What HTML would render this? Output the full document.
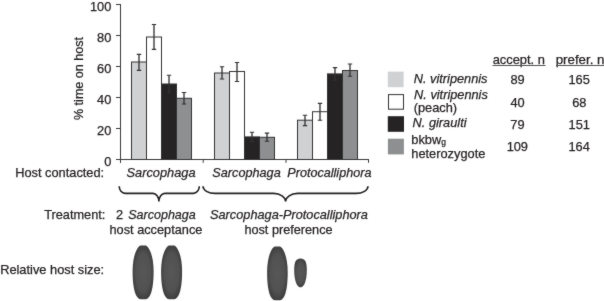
<!DOCTYPE html>
<html><head><meta charset="utf-8"><style>
html,body{margin:0;padding:0;background:#fff;overflow:hidden;}
svg{display:block;will-change:transform;font-family:"Liberation Sans",sans-serif;}
text{stroke:#231f20;stroke-width:0.25px;}
</style></head><body>
<svg width="604" height="301" viewBox="0 0 604 301">
<defs><filter id="soft" filterUnits="userSpaceOnUse" x="0" y="0" width="604" height="301" color-interpolation-filters="sRGB"><feConvolveMatrix order="3" kernelMatrix="1 2 1 2 28 2 1 2 1" edgeMode="duplicate" preserveAlpha="true"/></filter></defs>
<g filter="url(#soft)">
<rect width="604" height="301" fill="#fff"/>
<line x1="120.5" y1="4" x2="120.5" y2="163" stroke="#3a3a3a" stroke-width="1"/>
<line x1="116" y1="159.50" x2="121" y2="159.50" stroke="#3a3a3a" stroke-width="1"/>
<text x="104.18" y="166.00" style="font-size:12.8px" fill="#231f20">0</text>
<line x1="116" y1="128.50" x2="121" y2="128.50" stroke="#3a3a3a" stroke-width="1"/>
<text x="97.06" y="135.00" style="font-size:12.8px" fill="#231f20">20</text>
<line x1="116" y1="97.50" x2="121" y2="97.50" stroke="#3a3a3a" stroke-width="1"/>
<text x="97.06" y="104.00" style="font-size:12.8px" fill="#231f20">40</text>
<line x1="116" y1="66.50" x2="121" y2="66.50" stroke="#3a3a3a" stroke-width="1"/>
<text x="97.06" y="73.00" style="font-size:12.8px" fill="#231f20">60</text>
<line x1="116" y1="35.50" x2="121" y2="35.50" stroke="#3a3a3a" stroke-width="1"/>
<text x="97.06" y="42.00" style="font-size:12.8px" fill="#231f20">80</text>
<line x1="116" y1="4.50" x2="121" y2="4.50" stroke="#3a3a3a" stroke-width="1"/>
<text x="89.94" y="11.00" style="font-size:12.8px" fill="#231f20">100</text>
<line x1="116" y1="159.5" x2="369" y2="159.5" stroke="#3a3a3a" stroke-width="1"/>
<line x1="203.2" y1="159.5" x2="203.2" y2="162.8" stroke="#3a3a3a" stroke-width="1"/>
<line x1="286.0" y1="159.5" x2="286.0" y2="162.8" stroke="#3a3a3a" stroke-width="1"/>
<line x1="368.5" y1="159.5" x2="368.5" y2="162.8" stroke="#3a3a3a" stroke-width="1"/>
<rect x="131.50" y="62.00" width="15.00" height="97.50" fill="#d0d1d3" stroke="#333333" stroke-width="1"/>
<rect x="146.50" y="37.00" width="15.00" height="122.50" fill="#ffffff" stroke="#333333" stroke-width="1"/>
<rect x="161.50" y="84.00" width="15.00" height="75.50" fill="#252324" stroke="#333333" stroke-width="1"/>
<rect x="176.50" y="98.30" width="15.00" height="61.20" fill="#8d8f90" stroke="#333333" stroke-width="1"/>
<path d="M139.00 54.40V70.40" stroke="#333333" stroke-width="1.35" fill="none"/>
<path d="M136.80 54.40H141.20M136.80 70.40H141.20" stroke="#333333" stroke-width="1.1" fill="none"/>
<path d="M154.00 24.50V49.40" stroke="#333333" stroke-width="1.35" fill="none"/>
<path d="M151.80 24.50H156.20M151.80 49.40H156.20" stroke="#333333" stroke-width="1.1" fill="none"/>
<path d="M169.00 75.20V92.80" stroke="#333333" stroke-width="1.35" fill="none"/>
<path d="M166.80 75.20H171.20M166.80 92.80H171.20" stroke="#333333" stroke-width="1.1" fill="none"/>
<path d="M184.00 92.50V104.00" stroke="#333333" stroke-width="1.35" fill="none"/>
<path d="M181.80 92.50H186.20M181.80 104.00H186.20" stroke="#333333" stroke-width="1.1" fill="none"/>
<rect x="214.50" y="73.00" width="15.00" height="86.50" fill="#d0d1d3" stroke="#333333" stroke-width="1"/>
<rect x="229.50" y="71.50" width="15.00" height="88.00" fill="#ffffff" stroke="#333333" stroke-width="1"/>
<rect x="244.50" y="136.90" width="15.00" height="22.60" fill="#252324" stroke="#333333" stroke-width="1"/>
<rect x="259.50" y="137.30" width="15.00" height="22.20" fill="#8d8f90" stroke="#333333" stroke-width="1"/>
<path d="M222.00 66.80V79.00" stroke="#333333" stroke-width="1.35" fill="none"/>
<path d="M219.80 66.80H224.20M219.80 79.00H224.20" stroke="#333333" stroke-width="1.1" fill="none"/>
<path d="M237.00 62.50V81.50" stroke="#333333" stroke-width="1.35" fill="none"/>
<path d="M234.80 62.50H239.20M234.80 81.50H239.20" stroke="#333333" stroke-width="1.1" fill="none"/>
<path d="M252.00 132.20V141.60" stroke="#333333" stroke-width="1.35" fill="none"/>
<path d="M249.80 132.20H254.20M249.80 141.60H254.20" stroke="#333333" stroke-width="1.1" fill="none"/>
<path d="M267.00 133.10V141.30" stroke="#333333" stroke-width="1.35" fill="none"/>
<path d="M264.80 133.10H269.20M264.80 141.30H269.20" stroke="#333333" stroke-width="1.1" fill="none"/>
<rect x="297.50" y="120.20" width="15.00" height="39.30" fill="#d0d1d3" stroke="#333333" stroke-width="1"/>
<rect x="312.50" y="111.70" width="15.00" height="47.80" fill="#ffffff" stroke="#333333" stroke-width="1"/>
<rect x="327.50" y="73.90" width="15.00" height="85.60" fill="#252324" stroke="#333333" stroke-width="1"/>
<rect x="342.50" y="70.50" width="15.00" height="89.00" fill="#8d8f90" stroke="#333333" stroke-width="1"/>
<path d="M305.00 115.30V125.60" stroke="#333333" stroke-width="1.35" fill="none"/>
<path d="M302.80 115.30H307.20M302.80 125.60H307.20" stroke="#333333" stroke-width="1.1" fill="none"/>
<path d="M320.00 103.40V120.20" stroke="#333333" stroke-width="1.35" fill="none"/>
<path d="M317.80 103.40H322.20M317.80 120.20H322.20" stroke="#333333" stroke-width="1.1" fill="none"/>
<path d="M335.00 67.60V80.20" stroke="#333333" stroke-width="1.35" fill="none"/>
<path d="M332.80 67.60H337.20M332.80 80.20H337.20" stroke="#333333" stroke-width="1.1" fill="none"/>
<path d="M350.00 64.00V76.30" stroke="#333333" stroke-width="1.35" fill="none"/>
<path d="M347.80 64.00H352.20M347.80 76.30H352.20" stroke="#333333" stroke-width="1.1" fill="none"/>
<text x="-120.05" y="82.80" textLength="83.14" lengthAdjust="spacingAndGlyphs" style="font-size:12.8px" fill="#231f20" transform="rotate(-90)">% time on host</text>
<text x="15.15" y="177.00" textLength="89.02" lengthAdjust="spacingAndGlyphs" style="font-size:12.8px" fill="#231f20" >Host contacted:</text>
<text x="126.54" y="176.60" textLength="69.00" lengthAdjust="spacingAndGlyphs" style="font-style:italic;font-size:12.8px" fill="#231f20" >Sarcophaga</text>
<text x="212.34" y="176.60" textLength="68.39" lengthAdjust="spacingAndGlyphs" style="font-style:italic;font-size:12.8px" fill="#231f20" >Sarcophaga</text>
<text x="287.31" y="176.60" textLength="84.12" lengthAdjust="spacingAndGlyphs" style="font-style:italic;font-size:12.8px" fill="#231f20" >Protocalliphora</text>
<path d="M119.2 186.3 C119.2 190.21 121.90 193.4 125.2 193.4 H152.9 C156.20 193.4 158.9 197.09 158.9 201.6 C158.9 197.09 161.60 193.4 164.9 193.4 H193.3 C196.60 193.4 199.3 190.21 199.3 186.3" fill="none" stroke="#231f20" stroke-width="1.6"/>
<path d="M203.0 186.3 C203.0 190.21 208.40 193.4 215.0 193.4 H273.6 C280.20 193.4 285.6 197.09 285.6 201.6 C285.6 197.09 291.00 193.4 297.6 193.4 H356.0 C362.60 193.4 368.0 190.21 368.0 186.3" fill="none" stroke="#231f20" stroke-width="1.6"/>
<text x="44.22" y="219.00" textLength="61.14" lengthAdjust="spacingAndGlyphs" style="font-size:12.8px" fill="#231f20" >Treatment:</text>
<text x="115.96" y="219.00" textLength="7.12" lengthAdjust="spacingAndGlyphs" style="font-size:12.8px" fill="#231f20" >2</text>
<text x="128.25" y="219.00" textLength="67.48" lengthAdjust="spacingAndGlyphs" style="font-style:italic;font-size:12.8px" fill="#231f20" >Sarcophaga</text>
<text x="109.52" y="234.00" textLength="92.85" lengthAdjust="spacingAndGlyphs" style="font-size:12.8px" fill="#231f20" >host acceptance</text>
<text x="210.04" y="219.00" textLength="157.90" lengthAdjust="spacingAndGlyphs" style="font-style:italic;font-size:12.8px" fill="#231f20" >Sarcophaga-Protocalliphora</text>
<text x="244.42" y="234.00" textLength="88.14" lengthAdjust="spacingAndGlyphs" style="font-size:12.8px" fill="#231f20" >host preference</text>
<text x="0.15" y="273.80" textLength="104.02" lengthAdjust="spacingAndGlyphs" style="font-size:12.8px" fill="#231f20" >Relative host size:</text>
<defs><radialGradient id="pg" cx="0.5" cy="0.5" r="0.5"><stop offset="0" stop-color="#575758"/><stop offset="0.7" stop-color="#515152"/><stop offset="1" stop-color="#3f3f40"/></radialGradient></defs>
<path d="M140.60 245.40 L145.60 245.40 C148.75 245.91 153.60 255.64 153.60 271.00 C153.60 290.24 150.11 298.73 145.70 299.30 L140.50 299.30 C136.09 298.73 132.60 290.24 132.60 271.00 C132.60 255.64 137.45 245.91 140.60 245.40Z" fill="url(#pg)"/>
<path d="M169.10 245.40 L174.10 245.40 C177.25 245.91 182.10 255.64 182.10 271.00 C182.10 290.24 178.61 298.73 174.20 299.30 L169.00 299.30 C164.59 298.73 161.10 290.24 161.10 271.00 C161.10 255.64 165.95 245.91 169.10 245.40Z" fill="url(#pg)"/>
<path d="M274.90 246.40 L279.90 246.40 C282.99 246.91 287.70 256.64 287.70 272.00 C287.70 291.24 284.33 299.73 280.00 300.30 L274.80 300.30 C270.47 299.73 267.10 291.24 267.10 272.00 C267.10 256.64 271.81 246.91 274.90 246.40Z" fill="url(#pg)"/>
<path d="M300.50 258.60 L300.50 258.60 C305.04 258.83 306.80 262.02 306.80 270.00 C306.80 280.66 303.95 286.86 301.30 287.20 L299.70 287.20 C297.05 286.86 294.20 280.66 294.20 270.00 C294.20 262.02 295.96 258.83 300.50 258.60Z" fill="url(#pg)"/>
<text x="492.65" y="63.60" textLength="52.28" lengthAdjust="spacingAndGlyphs" style="font-size:12.8px" fill="#231f20" >accept. n</text>
<line x1="492.5" y1="65.5" x2="545.5" y2="65.5" stroke="#555" stroke-width="1"/>
<text x="555.66" y="63.60" textLength="48.80" lengthAdjust="spacingAndGlyphs" style="font-size:12.8px" fill="#231f20" >prefer. n</text>
<line x1="556" y1="65.5" x2="604" y2="65.5" stroke="#555" stroke-width="1"/>
<rect x="387.8" y="71.6" width="15.8" height="15.6" fill="#d0d1d3"/>
<rect x="388.5" y="94.6" width="15" height="14.6" fill="#fff" stroke="#333333" stroke-width="1"/>
<rect x="387.8" y="116.2" width="16.2" height="15.6" fill="#252324"/>
<rect x="387.9" y="138.7" width="16" height="15.7" fill="#8d8f90"/>
<text x="413.81" y="83.20" textLength="73.65" lengthAdjust="spacingAndGlyphs" style="font-style:italic;font-size:12.8px" fill="#231f20" >N. vitripennis</text>
<text x="414.11" y="98.50" textLength="73.65" lengthAdjust="spacingAndGlyphs" style="font-style:italic;font-size:12.8px" fill="#231f20" >N. vitripennis</text>
<text x="413.71" y="112.00" textLength="43.40" lengthAdjust="spacingAndGlyphs" style="font-size:12.8px" fill="#231f20" >(peach)</text>
<text x="412.61" y="127.00" textLength="53.91" lengthAdjust="spacingAndGlyphs" style="font-style:italic;font-size:12.8px" fill="#231f20" >N. giraulti</text>
<text x="411.28" y="144.20" textLength="29.88" lengthAdjust="spacingAndGlyphs" style="font-size:12.8px" fill="#231f20" >bkbw</text>
<text x="441.24" y="145.00" textLength="4.73" lengthAdjust="spacingAndGlyphs" style="font-size:8.5px" fill="#231f20" >g</text>
<text x="411.31" y="158.00" textLength="74.06" lengthAdjust="spacingAndGlyphs" style="font-size:12.8px" fill="#231f20" >heterozygote</text>
<text x="510.41" y="83.50" style="font-size:12.8px" fill="#231f20">89</text>
<text x="510.48" y="106.50" style="font-size:12.8px" fill="#231f20">40</text>
<text x="510.36" y="128.80" style="font-size:12.8px" fill="#231f20">79</text>
<text x="506.64" y="151.20" style="font-size:12.8px" fill="#231f20">109</text>
<text x="568.50" y="83.50" style="font-size:12.8px" fill="#231f20">165</text>
<text x="572.23" y="106.50" style="font-size:12.8px" fill="#231f20">68</text>
<text x="568.55" y="128.80" style="font-size:12.8px" fill="#231f20">151</text>
<text x="568.42" y="151.20" style="font-size:12.8px" fill="#231f20">164</text>
</g>
</svg>
</body></html>
